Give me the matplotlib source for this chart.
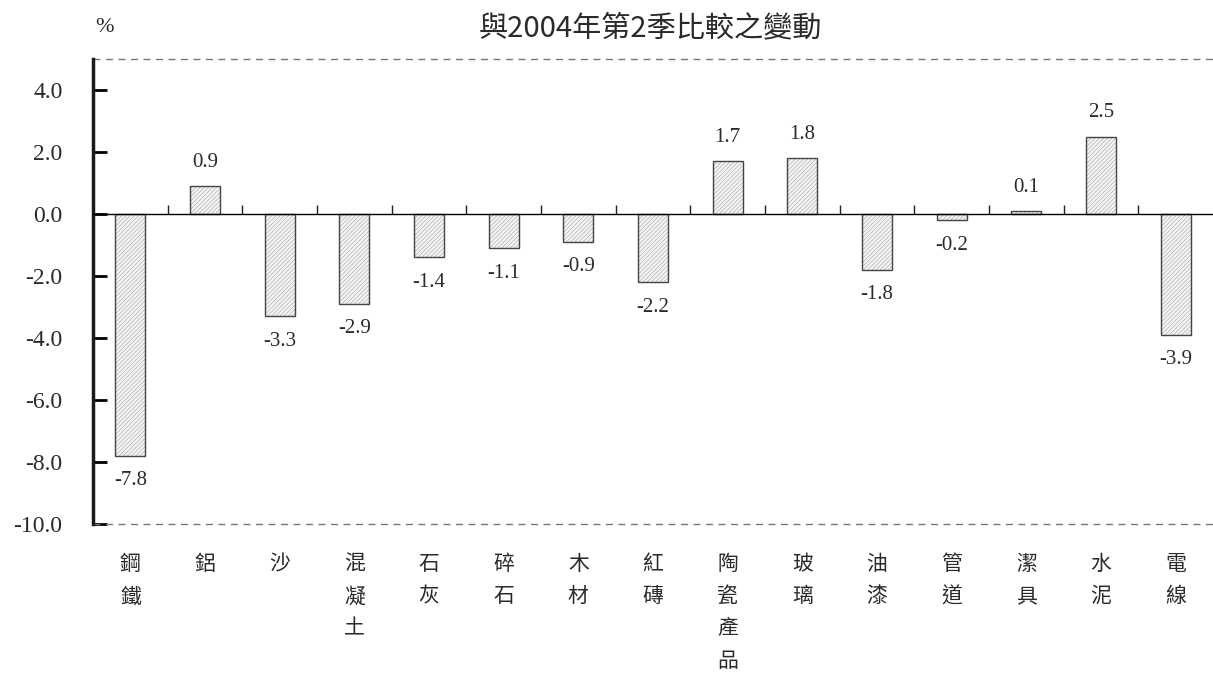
import numpy as np
import matplotlib.pyplot as plt

plt.rcParams['font.family'] = ['Liberation Serif', 'Noto Sans CJK TC']
plt.rcParams['hatch.linewidth'] = 0.5
plt.rcParams['hatch.color'] = '#b4b4b4'

# data
categories = ['鋼鐵', '鋁', '沙', '混凝土', '石灰', '碎石', '木材', '紅磚',
              '陶瓷產品', '玻璃', '油漆', '管道', '潔具', '水泥', '電線']
changes = [-7.8, 0.9, -3.3, -2.9, -1.4, -1.1, -0.9, -2.2,
           1.7, 1.8, -1.8, -0.2, 0.1, 2.5, -3.9]
yticks = [4.0, 2.0, 0.0, -2.0, -4.0, -6.0, -8.0, -10.0]

txt = '#2a2a2a'

fig = plt.figure(figsize=(12.13, 6.76), dpi=100)
ax = fig.add_axes([93 / 1213, 152 / 676, 1 - 93 / 1213, (524 - 59) / 676])

x = np.arange(len(categories))
ax.bar(x, changes, width=0.4, color='#f5f5f5', hatch='////////', edgecolor='#b0b0b0', linewidth=0)
ax.bar(x, changes, width=0.4, fill=False, edgecolor='#444444', linewidth=1.0)

for xi, v in zip(x, changes):
    off = 17 if v >= 0 else -18
    ax.annotate(f'{v:.1f}', (xi, v), xytext=(0, off), textcoords='offset points',
                ha='center', va='center', fontsize=15, color=txt)

# zero line with small ticks between categories
ax.axhline(0, color='black', lw=1.0, zorder=3)
ax.vlines(x[:-1] + 0.5, 0, 0.28, color='#222222', lw=1.0)

# dashed frame lines
ax.axhline(5, color='#777777', lw=1.0, ls=(0, (5, 4)), clip_on=False)
ax.axhline(-10, color='#777777', lw=1.0, ls=(0, (5, 4)), clip_on=False)

ax.set_xlim(-0.5, len(categories) - 0.5)
ax.set_ylim(-10, 5)
ax.set_yticks(yticks)
ax.set_yticklabels([f'{t:.1f}' for t in yticks], fontsize=17, color=txt)
ax.tick_params(axis='y', direction='in', length=10, width=2, pad=22)

ax.set_xticks(x)
ax.set_xticklabels(['\n'.join(c) for c in categories], fontsize=15,
                   family=['Noto Sans CJK TC'], linespacing=1.6, color=txt)
ax.tick_params(axis='x', length=0, pad=21)

for s in ['top', 'right', 'bottom']:
    ax.spines[s].set_visible(False)
ax.spines['left'].set_linewidth(2.5)
ax.spines['left'].set_color('#1a1a1a')

fig.text(650 / 1213, 1 - 28 / 676, '與2004年第2季比較之變動', ha='center', va='center',
         fontsize=21, family=['Noto Sans CJK TC'], color=txt)
fig.text(105 / 1213, 1 - 28 / 676, '%', ha='center', va='center', fontsize=16, color=txt)

fig.savefig('out.png', dpi=100)
